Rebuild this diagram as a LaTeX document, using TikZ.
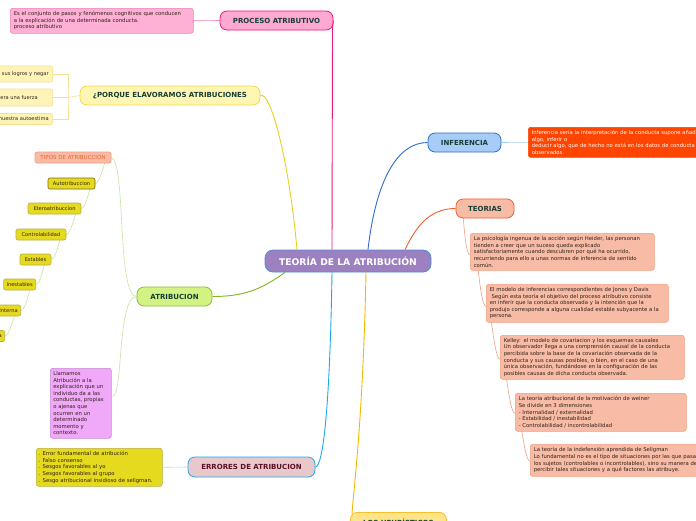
\documentclass[tikz,border=0pt]{standalone}
\usepackage{fontspec}
\setmainfont{DejaVu Sans}
\usetikzlibrary{backgrounds}
\pgfdeclarelayer{bg}
\pgfsetlayers{bg,background,main}
\definecolor{titletxt}{HTML}{173F35}
\definecolor{pinkfill}{HTML}{FFA8D2}
\definecolor{pinkline}{HTML}{E8197A}
\definecolor{pinkdesc}{HTML}{FFB0D4}
\definecolor{pinkdescline}{HTML}{E884B8}
\definecolor{yelfill}{HTML}{FFF6B4}
\definecolor{yelline}{HTML}{F0D84A}
\definecolor{yelconn}{HTML}{E8D020}
\definecolor{yelleaf}{HTML}{FFF4B8}
\definecolor{yelleafline}{HTML}{F4E090}
\definecolor{bluefill}{HTML}{A8CCF8}
\definecolor{blueline}{HTML}{2E6CD0}
\definecolor{redfill}{HTML}{FF4500}
\definecolor{salfill}{HTML}{F8BCA6}
\definecolor{salline}{HTML}{F0A080}
\definecolor{orline}{HTML}{F06030}
\definecolor{grfill}{HTML}{D2F284}
\definecolor{grline}{HTML}{8CC030}
\definecolor{grconn}{HTML}{80B820}
\definecolor{grlight}{HTML}{C8E4A0}
\definecolor{olfill}{HTML}{E6DA1E}
\definecolor{olline}{HTML}{B8B040}
\definecolor{oldark}{HTML}{7A6A20}
\definecolor{lilfill}{HTML}{F0A8F8}
\definecolor{lilline}{HTML}{C88AD8}
\definecolor{errfill}{HTML}{E8C8CA}
\definecolor{cyanline}{HTML}{20A8E8}
\definecolor{errtxt}{HTML}{5A0F2A}
\definecolor{cenfill}{HTML}{9C80C0}
\definecolor{cenline}{HTML}{4A90D8}
\definecolor{heurfill}{HTML}{FFE488}
\definecolor{heurline}{HTML}{F8C030}
\definecolor{heurconn}{HTML}{F8B800}
\definecolor{desctxt}{HTML}{2E2018}
\begin{document}
\begin{tikzpicture}[x=1pt,y=-1pt,
  topic/.style={rounded corners=7pt,line width=0.8pt,font=\fontsize{7}{8.5}\selectfont\bfseries,text=titletxt,inner sep=0pt},
  desc/.style={rounded corners=2.5pt,line width=0.6pt,align=left,anchor=north west,font=\fontsize{5.3}{6.6}\selectfont,text=desctxt,inner xsep=3.5pt,inner ysep=0pt},
  leaf/.style={rounded corners=2pt,line width=0.6pt,font=\fontsize{5.1}{6}\selectfont,text=desctxt,inner sep=0pt,minimum height=11pt},
  conn/.style={line width=0.9pt},
  thin/.style={line width=0.6pt}]
\useasboundingbox (0,0) rectangle (696,520);
\clip (0,0) rectangle (696,520);
\begin{pgfonlayer}{bg}
\fill[white] (0,0) rectangle (696,520);
\end{pgfonlayer}

% central
\node[topic,draw=cenline,fill=cenfill,text=white,font=\fontsize{9.2}{11}\selectfont\bfseries,minimum width=166pt,minimum height=22pt,rounded corners=8pt] (c) at (348,261) {TEORÍA DE LA ATRIBUCIÓN};

% proceso
\node[topic,draw=pinkline,fill=pinkfill,minimum width=113pt,minimum height=19pt] (proc) at (276.5,20.5) {PROCESO ATRIBUTIVO};
\node[desc,draw=pinkdescline,fill=pinkdesc,text width=176pt,minimum height=25pt] (procd) at (10,8) {Es el conjunto de pasos y fenómenos cognitivos que conducen\\a la explicación de una determinada conducta.\\proceso atributivo};

% porque
\node[topic,draw=yelline,fill=yelfill,minimum width=180pt,minimum height=19pt] (porq) at (170,95.5) {¿PORQUE ELAVORAMOS ATRIBUCIONES};
\node[leaf,draw=yelleafline,fill=yelleaf,anchor=east,minimum height=16pt,inner xsep=4pt] (p1) at (53,74) {Para atribuirnos sus logros y negar};
\node[leaf,draw=yelleafline,fill=yelleaf,anchor=east,minimum height=17pt,inner xsep=4pt] (p2) at (53,97.5) {Para ver el mundo como si fuera una fuerza\kern11pt\relax};
\node[leaf,draw=yelleafline,fill=yelleaf,anchor=east,minimum height=11pt,inner xsep=4pt] (p3) at (53,119) {Para proteger nuestra autoestima};

% inferencia
\node[topic,draw=blueline,fill=bluefill,minimum width=73pt,minimum height=19pt] (inf) at (464.5,142.5) {INFERENCIA};
\node[desc,draw=redfill,fill=redfill,text=white,text width=200pt,minimum height=30pt] (infd) at (528,127) {Inferencia sería la interpretación de la conducta supone añadir\\algo, inferir o\\deducir algo, que de hecho no está en los datos de conducta\\observados.};

% teorias
\node[topic,draw=orline,fill=salfill,minimum width=58pt,minimum height=19pt] (teo) at (485,208.5) {TEORIAS};
\node[desc,draw=salline,fill=salfill,text width=177pt,minimum height=37pt] (t1) at (470,233) {La psicología ingenua de la acción según Heider, las personan\\tienden a creer que un suceso queda explicado\\satisfactoriamente cuando descubren por qué ha ocurrido,\\recurriendo para ello a unas normas de inferencia de sentido\\común.};
\node[desc,draw=salline,fill=salfill,text width=175pt,minimum height=38pt] (t2) at (486,284) {El modelo de inferencias correspondientes de Jones y Davis\\\ Según esta teoría el objetivo del proceso atributivo consiste\\en inferir que la conducta observada y la intención que la\\produjo corresponde a alguna cualidad estable subyacente a la\\persona.};
\node[desc,draw=salline,fill=salfill,text width=177pt,minimum height=44pt] (t3) at (500,335) {Kelley: el modelo de covariacion y los esquemas causales\\Un observador llega a una comprensión causal de la conducta\\percibida sobre la base de la covariación observada de la\\conducta y sus causas posibles, o bien, en el caso de una\\única observación, fundándose en la configuración de las\\posibles causas de dicha conducta observada.};
\node[desc,draw=salline,fill=salfill,text width=164pt,minimum height=38pt] (t4) at (515,393) {La teoría atribucional de la motivación de weiner\\Se divide en 3 dimensiones\\- Internalidad / externalidad\\- Estabilidad / inestabilidad\\- Controlabilidad / incontrolabilidad};
\node[desc,draw=salline,fill=salfill,text width=190pt,minimum height=32pt] (t5) at (530,444) {La teoría de la indefensión aprendida de Seligman\\Lo fundamental no es el tipo de situaciones por las que pasan\\los sujetos (controlables o incontrolables), sino su manera de\\percibir tales situaciones y a qué factores las atribuye.};

% atribucion
\node[topic,draw=grline,fill=grfill,minimum width=75pt,minimum height=19pt] (atr) at (174.5,296.5) {ATRIBUCION};
\node[leaf,draw=salline,fill=salfill,text=orline,font=\fontsize{5.5}{6}\selectfont,minimum width=76pt] (tipos) at (73,157.5) {TIPOS DE ATRIBUCCION};
\node[leaf,draw=oldark,fill=olfill,minimum width=47pt] (a1) at (71.5,183.5) {Autotribuccion};
\node[leaf,draw=olline,fill=olfill,minimum width=53pt] (a2) at (54.5,208.5) {Eteroatribuccion};
\node[leaf,draw=olline,fill=olfill,minimum width=50pt] (a3) at (41,234.5) {Controlabilidad};
\node[leaf,draw=olline,fill=olfill,minimum width=31pt] (a4) at (35.5,259.5) {Estables};
\node[leaf,draw=olline,fill=olfill,anchor=east,inner xsep=3pt] (a5) at (36,284.5) {Inestables};
\node[leaf,draw=olline,fill=olfill,anchor=east,inner xsep=3pt] (a6) at (21,310.5) {Interna};
\node[leaf,draw=olline,fill=olfill,anchor=east,inner xsep=3pt] (a7) at (5,336) {Externa};
\node[desc,draw=lilline,fill=lilfill,text width=55pt,inner xsep=3pt,minimum height=70pt] (llam) at (50,368) {Llamamos\\Atribución a la\\explicación que un\\individuo da a las\\conductas, propias\\o ajenas que\\ocurren en un\\determinado\\momento y\\contexto.};

% errores
\node[topic,draw=cyanline,fill=errfill,text=errtxt,minimum width=127pt,minimum height=20pt] (err) at (251.5,467) {ERRORES DE ATRIBUCION};
\node[desc,draw=olline,fill=olfill,text width=122pt,minimum height=38pt,inner xsep=2pt] (errd) at (36,448) {. Error fundamental de atribución\\. Falso consenso\\. Sesgos favorables al yo\\. Sesgos favorables al grupo\\. Sesgo atribucional insidioso de seligman.};

% heuristicos
\node[topic,draw=heurline,fill=heurfill,anchor=north west,minimum width=96pt,minimum height=20pt] (heur) at (350,512) {LOS HEURÍSTICOS};

\begin{pgfonlayer}{background}
% main branches
\draw[conn,pinkline] ([xshift=-16pt]c.north) -- ([xshift=56pt,yshift=-8pt]proc.center) to[out=90,in=-90] (proc.east);
\draw[thin,pinkdescline] (procd.east) -- (proc.west);
\draw[conn,yelconn] ([xshift=-51pt]c.north) .. controls +(-8,-90) and +(10,-5) .. (porq.east);
\draw[conn,blueline] ([xshift=20pt]c.north) .. controls +(8,-70) and +(-30,0) .. (inf.west);
\draw[thin,bluefill] (inf.east) -- (infd.west);
\draw[conn,orline] ([xshift=57pt]c.north) .. controls +(12,-25) and +(-25,0) .. (teo.west);
\draw[conn,grconn] ([xshift=-63pt]c.south) .. controls +(-25,18) and +(30,0) .. (atr.east);
\draw[conn,cyanline] ([xshift=-16pt]c.south) .. controls +(-2,130) and +(8,0) .. (err.east);
\draw[thin,bluefill!80] (err.west) -- (errd.east);
\draw[conn,heurconn] ([xshift=18pt]c.south) .. controls +(-3,150) and +(1,-20) .. ([xshift=2pt,yshift=-2pt]heur.north west);
% porque leaves
\coordinate (pk) at (68,97.5);
\draw[thin,yelleafline] (porq.west) -- (pk);
\draw[thin,yelleafline] (p1.east) -| (pk) |- (p3.east);
\draw[thin,yelleafline] (p2.east) -- (pk);
% teorias chain
\draw[thin,salline] ([xshift=7pt]teo.south west) .. controls +(0,-25) and +(-6,0) .. ([yshift=-3pt]t1.west);
\draw[thin,salline] ([xshift=7pt]t1.south west) .. controls +(0,-25) and +(-6,0) .. ([yshift=-3pt]t2.west);
\draw[thin,salline] ([xshift=4pt]t2.south west) .. controls +(0,-25) and +(-6,0) .. ([yshift=-2pt]t3.west);
\draw[thin,salline] ([xshift=5pt]t3.south west) .. controls +(0,-25) and +(-6,0) .. ([yshift=-1pt]t4.west);
\draw[thin,salline] ([xshift=5pt]t4.south west) .. controls +(0,-25) and +(-6,0) .. ([yshift=-1pt]t5.west);
% atribucion
\draw[thin,grlight] (atr.west) .. controls +(-20,0) and +(15,5) .. (tipos.east);
\draw[thin,grlight] (atr.west) .. controls +(-20,0) and +(12,5) .. ([yshift=7pt]llam.east);
\draw[thin,grlight] ([xshift=-4pt]tipos.south east) .. controls +(0,-18) and +(6,0) .. (a1.east);
\draw[thin,grlight] ([xshift=-3pt]a1.south east) .. controls +(0,-18) and +(6,0) .. (a2.east);
\draw[thin,grlight] ([xshift=-3pt]a2.south east) .. controls +(0,-18) and +(6,0) .. (a3.east);
\draw[thin,grlight] ([xshift=-4pt]a3.south east) .. controls +(0,-18) and +(6,0) .. (a4.east);
\draw[thin,grlight] ([xshift=-5pt]a4.south east) .. controls +(0,-18) and +(6,0) .. (a5.east);
\draw[thin,grlight] ([xshift=-4pt]a5.south east) .. controls +(0,-18) and +(6,0) .. (a6.east);
\draw[thin,grlight] ([xshift=-4pt]a6.south east) .. controls +(0,-18) and +(6,0) .. (a7.east);
\end{pgfonlayer}
\end{tikzpicture}
\end{document}
